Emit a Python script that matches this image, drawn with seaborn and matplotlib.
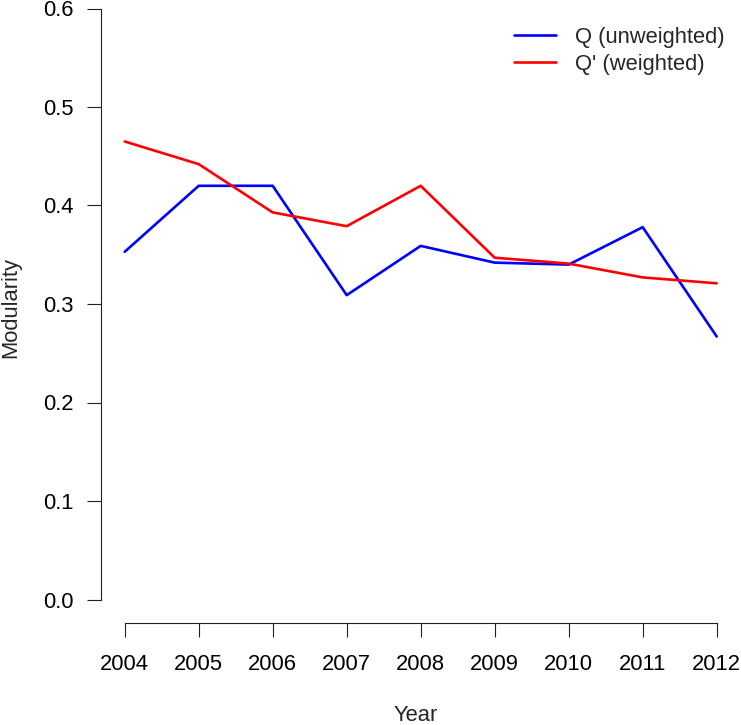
import matplotlib
matplotlib.use("Agg")
import matplotlib.pyplot as plt
import seaborn as sns
import pandas as pd
from matplotlib.lines import Line2D

years = [2004, 2005, 2006, 2007, 2008, 2009, 2010, 2011, 2012]
q_unweighted = [0.353, 0.420, 0.420, 0.309, 0.359, 0.342, 0.340, 0.378, 0.267]
q_weighted = [0.465, 0.442, 0.393, 0.379, 0.420, 0.347, 0.341, 0.327, 0.321]
series_names = ["Q (unweighted)", "Q' (weighted)"]
series_colors = ["#0000FF", "#FF0000"]
y_ticks = [0.0, 0.1, 0.2, 0.3, 0.4, 0.5, 0.6]

df = pd.DataFrame({
    "Year": years * 2,
    "Modularity": q_unweighted + q_weighted,
    "Series": [series_names[0]] * len(years) + [series_names[1]] * len(years),
})

sns.set_style("ticks")
plt.rcParams["font.family"] = ["Liberation Sans", "DejaVu Sans"]

FS = 15.8
W, H = 741, 725
fig = plt.figure(figsize=(W / 100, H / 100), dpi=100)
left_px, right_px, top_px, bottom_px = 101, 741, 8.5, 623
ax = fig.add_axes([left_px / W, 1 - bottom_px / H, (right_px - left_px) / W, (bottom_px - top_px) / H])

sns.lineplot(data=df, x="Year", y="Modularity", hue="Series",
             palette=dict(zip(series_names, series_colors)), linewidth=1.9,
             ax=ax, legend=False)

px_per_year = (716.7 - 124.7) / 8
ax.set_xlim(2004 - (124.7 - left_px) / px_per_year, 2012 + (right_px - 716.7) / px_per_year)
px_per_unit = (599.5 - 8.5) / 0.6
ax.set_ylim(0 - (bottom_px - 599.5) / px_per_unit, 0.6)

ax.set_xticks(years)
ax.set_xticklabels([str(y) for y in years])
ax.set_yticks(y_ticks)
ax.set_yticklabels([f"{v:.1f}" for v in y_ticks])

for s in ["top", "right"]:
    ax.spines[s].set_visible(False)
ax.spines["left"].set_bounds(0.0, 0.6)
ax.spines["bottom"].set_bounds(2004, 2012)
for s in ["left", "bottom"]:
    ax.spines[s].set_linewidth(0.8)
    ax.spines[s].set_color("#222222")

ax.tick_params(axis="both", direction="out", length=10, width=0.8, color="#222222",
               labelsize=FS, labelcolor="black", bottom=True, left=True)
ax.tick_params(axis="y", pad=10)
ax.tick_params(axis="x", pad=12.5)

ax.set_xlabel("Year", fontsize=FS)
ax.set_ylabel("Modularity", fontsize=FS)
ax.xaxis.set_label_coords((416 - left_px) / (right_px - left_px), -(705 - bottom_px) / (bottom_px - top_px))
ax.yaxis.set_label_coords(-(101 - 21) / (right_px - left_px), (bottom_px - 307) / (bottom_px - top_px))
for sp in ax.spines.values():
    sp.set_clip_on(False)
for line in ax.lines:
    line.set_clip_on(False)

handles = [Line2D([0], [0], color=c, linewidth=1.9) for c in series_colors]
leg = ax.legend(handles, series_names, loc="upper left",
                bbox_to_anchor=(514 / W, 1 - 27 / H), bbox_transform=fig.transFigure,
                frameon=False, fontsize=FS, handlelength=1.9, handletextpad=0.9,
                labelspacing=0.28, borderpad=0, borderaxespad=0)

fig.savefig("out.png", dpi=100)
